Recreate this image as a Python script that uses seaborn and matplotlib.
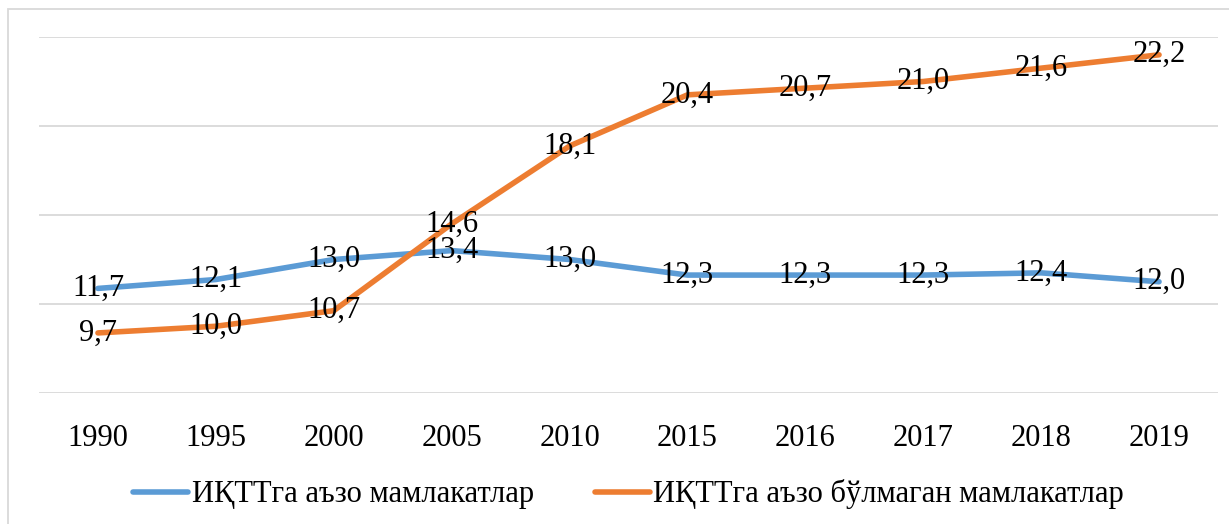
import numpy as np
import pandas as pd
import seaborn as sns
import matplotlib.pyplot as plt
from matplotlib.patches import Rectangle

# ============================================================
# Data
# ============================================================

years = ["1990", "1995", "2000", "2005", "2010", "2015", "2016", "2017", "2018", "2019"]

members = [11.7, 12.1, 13.0, 13.4, 13.0, 12.3, 12.3, 12.3, 12.4, 12.0]
non_members = [9.7, 10.0, 10.7, 14.6, 18.1, 20.4, 20.7, 21.0, 21.6, 22.2]

series_names = ["ИҚТТга аъзо мамлакатлар", "ИҚТТга аъзо бўлмаган мамлакатлар"]
colors = ["#5B9BD5", "#ED7D31"]

df = pd.DataFrame({
    "year": years * 2,
    "value": members + non_members,
    "series": [series_names[0]] * len(years) + [series_names[1]] * len(years),
})

# ============================================================
# Plot
# ============================================================

sns.set_theme(style="white")
plt.rcParams["font.family"] = ["Liberation Serif", "DejaVu Serif"]
plt.rcParams["text.color"] = "black"
plt.rcParams["xtick.color"] = "black"

fig = plt.figure(figsize=(12.29, 5.24), dpi=100)
ax = fig.add_axes([39 / 1229, 1 - 393 / 524, (1218 - 39) / 1229, (393 - 37) / 524])

sns.lineplot(
    data=df,
    x="year",
    y="value",
    hue="series",
    palette=colors,
    linewidth=4,
    sort=False,
    ax=ax,
)

# data labels centred on points
for vals in [members, non_members]:
    for i, v in enumerate(vals):
        ax.text(i, v, f"{v:.1f}".replace(".", ","), ha="center", va="center",
                fontsize=22, color="black")

ax.set_xlim(-0.5, len(years) - 0.5)
ax.set_ylim(7, 23)
ax.set_yticks([7, 11, 15, 19, 23])
ax.yaxis.grid(True, color="#d9d9d9", linewidth=1.3)
ax.set_yticklabels([])
ax.tick_params(axis="y", length=0)
ax.tick_params(axis="x", length=0, labelsize=22, pad=22, labelcolor="black")
ax.set_xlabel("")
ax.set_ylabel("")
for s in ax.spines.values():
    s.set_visible(False)

handles, labels = ax.get_legend_handles_labels()
ax.legend(
    handles, labels,
    loc="center",
    bbox_to_anchor=(0.5, -0.285),
    ncol=2,
    frameon=False,
    fontsize=22,
    handlelength=1.8,
    handletextpad=0.1,
    columnspacing=2.0,
    labelcolor="black",
)

# chart area border
fig.patches.append(Rectangle((8 / 1229, -0.1), 1.2, 1 - 9 / 524 + 0.1,
                             transform=fig.transFigure, fill=False,
                             edgecolor="#d9d9d9", linewidth=1.3))

fig.savefig("out.png", dpi=100)
